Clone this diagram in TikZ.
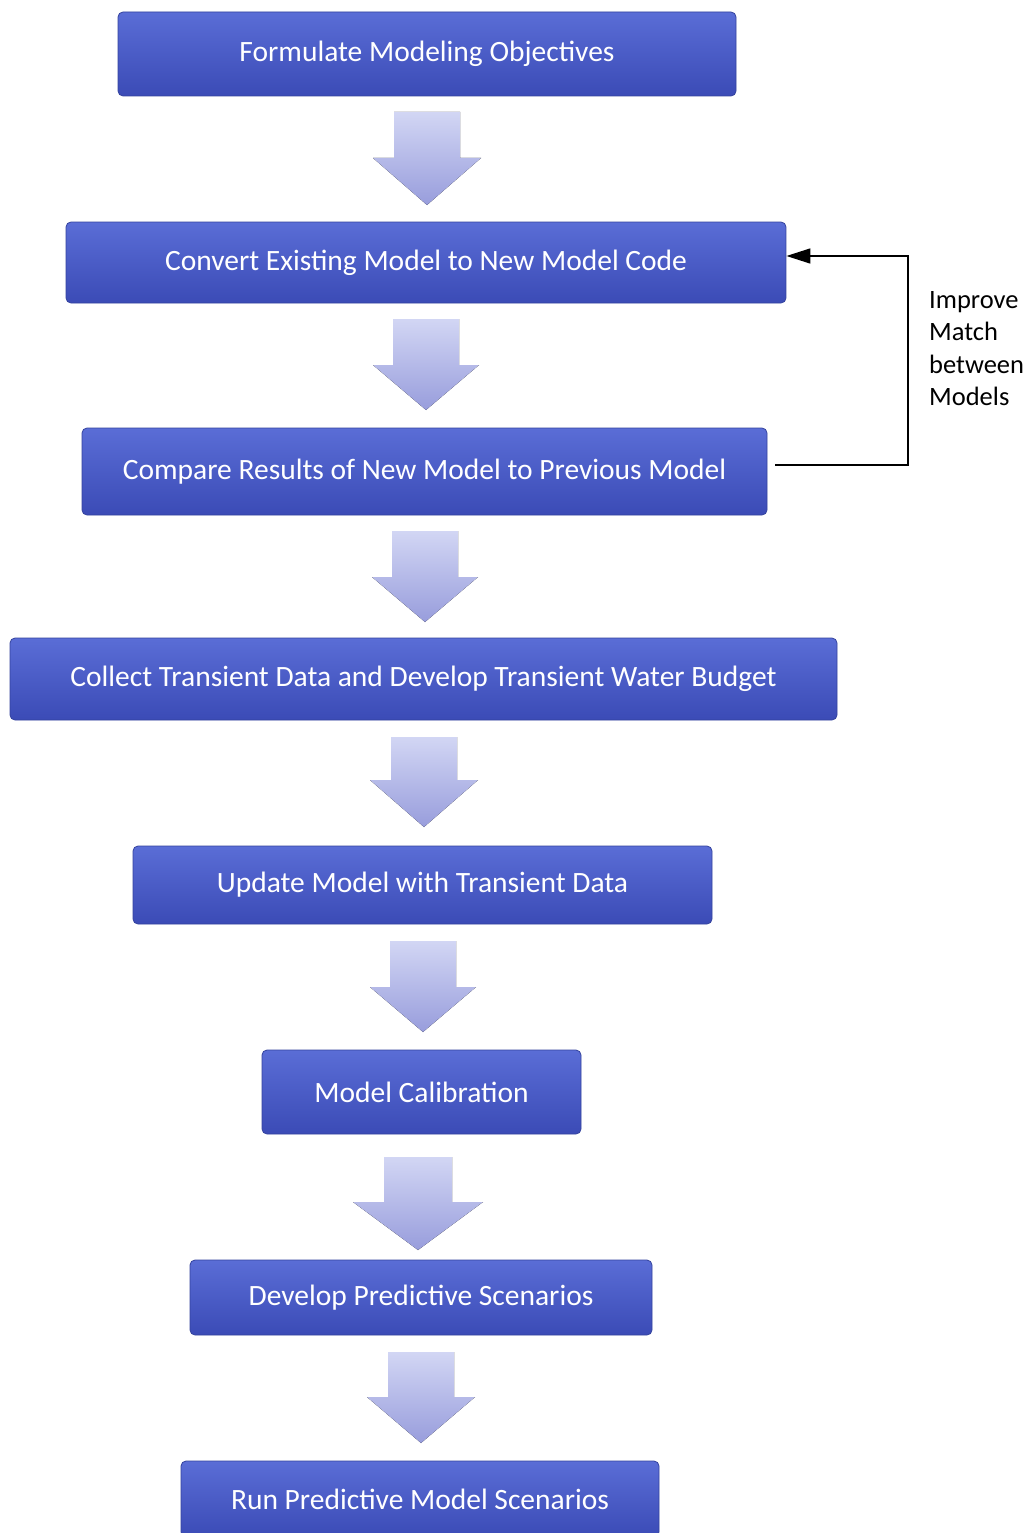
\documentclass[tikz,border=0pt]{standalone}
\usepackage{fontspec}
\setmainfont{Carlito}
\usetikzlibrary{arrows.meta}
\definecolor{boxtop}{HTML}{5A6DD6}
\definecolor{boxbot}{HTML}{3B4BB6}
\definecolor{boxedge}{HTML}{34439E}
\definecolor{arrtop}{HTML}{D2D6F4}
\definecolor{arrbot}{HTML}{989DDC}
\tikzset{
  stepbox/.style={rectangle, rounded corners=5pt, top color=boxtop, bottom color=boxbot,
    draw=boxedge, line width=0.8pt, text=white, font=\fontsize{29.5}{33}\selectfont,
    inner sep=0pt},
  blockarrow/.style={top color=arrtop, bottom color=arrbot, draw=none},
  fbline/.style={line width=1.5pt, draw=black},
}
% block arrow: #1 centre x, #2 top y, #3 shaft/head junction y, #4 tip y, #5 shaft half width, #6 head half width
\newcommand{\blockarr}[6]{%
  \fill[blockarrow] (#1-#5,#2) -- (#1+#5,#2) -- (#1+#5,#3) -- (#1+#6,#3) -- (#1,#4)
    -- (#1-#6,#3) -- (#1-#5,#3) -- cycle;}
\begin{document}
\begin{tikzpicture}[x=1pt,y=-1pt]
\clip (0,0) rectangle (1028,1533);
\fill[white] (0,0) rectangle (1028,1533);

\node[stepbox, minimum width=618pt, minimum height=84pt] (b1) at (427,54) {Formulate Modeling Objectives};
\node[stepbox, minimum width=720pt, minimum height=81pt] (b2) at (426,262.5) {Convert Existing Model to New Model Code};
\node[stepbox, minimum width=685pt, minimum height=87pt] (b3) at (424.5,471.5) {Compare Results of New Model to Previous Model};
\node[stepbox, minimum width=827pt, minimum height=82pt] (b4) at (423.5,679) {Collect Transient Data and Develop Transient Water Budget};
\node[stepbox, minimum width=579pt, minimum height=78pt] (b5) at (422.5,885) {Update Model with Transient Data};
\node[stepbox, minimum width=319pt, minimum height=84pt] (b6) at (421.5,1092) {Model Calibration};
\node[stepbox, minimum width=462pt, minimum height=75pt] (b7) at (421,1297.5) {Develop Predictive Scenarios};
\node[stepbox, minimum width=478pt, minimum height=76pt] (b8) at (420,1499) {Run Predictive Model Scenarios};

\blockarr{427}{112}{158}{205}{33}{54}
\blockarr{426}{319}{365}{410}{33}{53}
\blockarr{425}{531}{577}{622}{33}{53}
\blockarr{424}{737}{780}{827}{33}{54}
\blockarr{423}{941}{987}{1032}{33}{53}
\blockarr{418}{1157}{1202}{1250}{34}{65}
\blockarr{421}{1352}{1397}{1443}{33}{54}

\coordinate (fbcorner) at (908,465);
\draw[fbline, -{Triangle[length=24pt,width=15pt]}]
  ([xshift=8pt,yshift=6.5pt]b3.east) -- (fbcorner) |- ([yshift=6.5pt]b2.east);
\node[anchor=north west, align=left, inner sep=0pt, font=\fontsize{26.5}{32.5}\selectfont] (lbl) at (929,291)
  {Improve\\Match\\between\\Models};
\end{tikzpicture}
\end{document}
